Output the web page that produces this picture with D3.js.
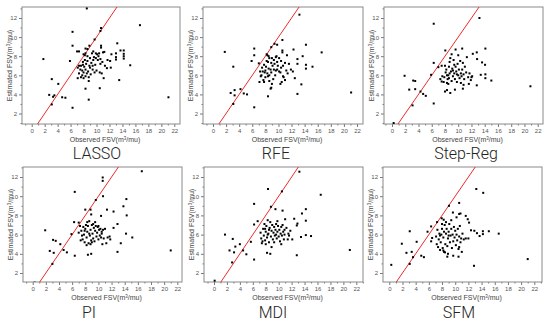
<!DOCTYPE html>
<html>
<head>
<meta charset="utf-8">
<script src="https://cdn.jsdelivr.net/npm/d3@7"></script>
<style>
  body { margin: 0; background: #fff; }
  svg { display: block; font-family: "Liberation Sans", Arial, sans-serif; }
</style>
</head>
<body>
<script>
const methods = ['LASSO', 'RFE', 'Step-Reg', 'PI', 'MDI', 'SFM'];
const xTicks = [0, 2, 4, 6, 8, 10, 12, 14, 16, 18, 20, 22];
const yTicks = [2, 4, 6, 8, 10, 12];

// [observed, estimated] pairs per method
const lassoPts = [[8.5,13.0],[1.8,7.7],[16.7,11.25],[6.3,10.55],[6.3,9.1],[10.7,10.95],[10.6,10.65],[9.7,9.75],[13.2,9.35],[5.9,7.5],[2.7,3.95],[4.1,5.1],[3.1,5.6],[3.3,3.75],[3.5,3.9],[4.7,3.7],[5.2,3.65],[3.1,2.95],[6.3,2.6],[8.8,3.45],[8.3,4.6],[10.5,4.65],[13.5,5.5],[15.2,7.05],[21.1,3.7],[14.2,8.6],[14.2,8.25],[14.2,8.0],[14.2,7.75],[13.7,8.6],[13.0,8.3],[13.0,7.9],[13.0,7.65],[12.3,8.2],[12.1,7.5],[11.7,7.6],[11.6,6.75],[12.2,6.8],[11.1,5.7],[11.2,8.45],[11.0,8.4],
  [7.0,8.5],[7.3,8.5],[8.0,8.2],[8.3,8.8],[8.6,8.75],[8.9,9.1],[9.3,8.3],[9.5,8.5],[10.1,8.2],[10.4,8.3],[10.7,8.9],[10.7,9.1],[10.3,8.0],[9.9,7.8],[9.6,7.9],[9.0,7.8],[8.6,8.0],[8.2,8.1],[7.9,7.4],[7.6,7.0],[7.3,7.0],[7.1,6.8],[7.5,6.6],[7.8,6.5],[8.1,6.9],[8.4,7.2],[8.6,7.5],[8.9,7.0],[9.2,7.3],[9.5,7.6],[9.8,7.1],[10.2,7.6],[10.6,7.2],[10.9,7.4],[8.0,6.3],[8.3,6.6],[8.7,6.4],[9.0,6.8],[9.4,6.6],[9.7,6.3],[10.0,6.5],[10.5,6.3],[10.8,6.2],[7.3,6.2],[7.6,5.8],[7.1,5.7],[8.0,5.7],[8.3,5.9],[8.8,5.8],[8.8,5.4],[9.1,6.1],[7.8,6.0],[8.5,6.2],[9.4,7.0],[11.3,7.0],[10.6,7.7],[8.2,7.6],[7.9,7.1],[9.9,8.3],[8.3,8.3]];

const rfePts = [[13.2,12.35],[1.8,8.45],[3.1,6.9],[2.7,4.15],[3.3,4.45],[4.2,4.55],[3.3,3.9],[4.7,4.1],[5.2,4.0],[3.1,3.0],[6.3,2.65],[8.4,3.8],[8.9,4.7],[8.8,4.6],[10.5,5.3],[13.5,5.05],[12.9,4.05],[21.1,4.2],[16.6,8.4],[15.2,6.9],[14.2,9.2],[14.2,7.1],[14.2,6.7],[13.7,8.0],[12.9,7.7],[12.9,7.2],[12.3,8.7],[12.2,6.4],[11.9,6.6],[11.3,8.1],[11.2,6.5],[10.6,9.7],[10.6,8.6],[10.6,8.4],[9.8,9.2],[9.4,9.3],[8.9,8.95],[8.5,8.0],[8.3,8.1],[6.3,8.8],[6.3,8.1],[5.9,7.5],
  [7.0,7.25],[7.2,6.4],[7.4,6.0],[7.5,6.8],[7.8,7.1],[8.0,6.5],[8.2,7.5],[8.4,7.4],[8.6,7.8],[8.9,7.3],[9.1,7.0],[9.3,7.6],[9.6,7.9],[9.8,7.4],[10.1,7.8],[10.4,7.5],[10.7,7.0],[11.0,7.3],[7.3,5.9],[7.7,5.5],[8.0,5.8],[8.3,6.2],[8.6,6.0],[8.9,6.3],[9.2,5.6],[9.5,6.0],[9.8,6.6],[10.1,6.4],[10.4,6.8],[10.7,5.9],[11.0,5.5],[11.4,6.2],[7.1,5.3],[7.8,5.3],[8.6,5.4],[9.0,5.1],[10.3,5.1],[10.8,5.8],[8.1,6.9],[8.5,6.7],[9.3,6.6],[9.9,7.0],[7.9,6.3],[8.8,6.6],[9.0,7.8],[8.2,8.2],[9.6,6.5],[11.6,7.2],[10.3,6.3],[7.6,6.4],[8.4,5.9],[9.4,7.2],[9.7,8.0],[12.5,5.7]];

const stepPts = [[13.2,12.0],[6.3,11.4],[1.9,5.95],[3.2,5.45],[3.5,5.4],[2.6,4.5],[3.5,4.55],[4.3,4.3],[4.7,4.05],[5.1,3.85],[3.1,2.85],[6.3,3.05],[0.25,1.0],[20.9,4.85],[15.0,5.45],[14.1,6.1],[14.1,5.7],[14.1,8.8],[14.05,7.1],[13.6,7.35],[13.4,6.05],[12.85,7.7],[12.8,8.4],[12.8,4.95],[12.2,8.25],[12.1,5.9],[10.6,8.8],[9.6,8.7],[8.05,8.6],[7.5,7.0],[7.0,6.85],[5.9,6.05],[6.3,7.3],[10.7,4.6],[8.0,4.3],[8.3,4.45],[8.8,4.15],[9.5,4.5],
  [7.6,5.9],[7.8,5.3],[7.9,5.8],[8.1,6.3],[8.2,6.6],[8.3,5.2],[8.4,5.6],[8.5,6.0],[8.6,6.9],[8.7,7.4],[8.8,7.8],[8.9,6.4],[9.0,5.4],[9.1,6.7],[9.2,5.9],[9.3,7.6],[9.4,6.2],[9.5,5.6],[9.6,6.9],[9.7,6.4],[9.8,5.3],[9.9,7.2],[10.0,6.0],[10.1,6.6],[10.2,5.7],[10.3,7.5],[10.4,6.2],[10.5,5.9],[10.6,6.6],[10.7,7.3],[10.8,6.1],[10.9,5.6],[11.0,6.9],[11.2,6.3],[11.5,5.8],[11.7,6.2],[11.9,5.5],[12.0,5.8],[7.3,5.6],[7.5,5.35],[8.0,7.0],[8.6,5.7],[9.2,6.5],[9.8,6.1],[10.4,5.2],[11.3,7.9],[10.0,8.1],[9.0,8.2],[8.7,6.2],[8.3,6.0],[9.4,7.1],[10.8,5.0],[11.6,5.1],[8.5,5.1]];

const piPts = [[16.6,12.6],[10.65,11.95],[10.65,11.6],[6.4,10.45],[10.7,10.0],[9.6,9.6],[14.25,9.7],[13.8,8.95],[14.3,8.0],[14.2,6.1],[15.15,5.7],[13.4,5.1],[12.9,7.1],[12.3,8.4],[11.3,8.6],[10.4,7.95],[12.3,6.7],[11.7,5.8],[12.9,4.2],[21.0,4.35],[1.9,6.45],[3.1,5.45],[3.5,5.35],[4.2,5.0],[2.6,4.3],[3.2,4.1],[4.7,4.4],[5.2,4.15],[3.0,2.95],[0.3,1.0],[6.4,3.8],[8.4,3.9],[8.9,4.0],[6.3,7.3],[5.9,6.05],[7.0,7.25],[8.0,8.6],[8.8,8.6],[8.9,8.1],
  [7.2,6.9],[7.4,6.4],[7.5,5.9],[7.6,5.5],[7.8,6.0],[7.9,5.2],[8.0,6.6],[8.1,7.0],[8.2,5.7],[8.3,6.3],[8.4,6.9],[8.5,5.1],[8.6,7.4],[8.7,5.9],[8.8,6.5],[8.9,5.4],[9.0,7.0],[9.1,6.1],[9.2,5.6],[9.3,6.7],[9.4,5.3],[9.5,6.4],[9.6,6.9],[9.7,5.8],[9.8,6.2],[9.9,6.8],[10.0,5.5],[10.1,6.5],[10.2,5.9],[10.3,6.6],[10.4,5.7],[10.5,6.3],[10.6,5.0],[10.7,6.5],[10.8,5.6],[11.0,6.6],[11.2,5.1],[11.4,5.7],[7.3,5.4],[7.7,6.8],[8.2,4.9],[8.6,6.1],[9.0,5.2],[9.5,7.3],[10.0,6.9],[11.8,5.5],[7.0,6.2],[8.3,7.3],[9.2,7.1],[10.5,6.1],[7.9,6.4],[8.8,5.0]];

const mdiPts = [[13.2,12.55],[8.35,10.75],[10.5,10.5],[16.5,10.15],[6.2,9.2],[8.8,8.9],[9.5,8.65],[10.6,8.5],[14.2,8.65],[13.6,8.2],[12.4,7.65],[14.2,7.45],[12.9,7.15],[12.8,6.95],[14.2,5.95],[15.0,5.85],[13.45,5.75],[12.8,3.85],[21.0,4.4],[1.7,6.0],[2.9,5.55],[3.3,4.75],[4.0,5.0],[2.4,4.35],[3.1,4.15],[4.5,4.35],[5.0,3.95],[2.8,3.1],[0.1,1.2],[6.2,3.4],[8.2,4.1],[8.7,4.0],[5.7,5.25],[6.2,7.05],[6.75,7.4],
  [7.2,6.2],[7.3,5.6],[7.4,5.1],[7.6,6.6],[7.7,5.9],[7.8,7.1],[7.9,5.4],[8.0,6.3],[8.1,6.9],[8.2,5.7],[8.3,7.5],[8.4,6.1],[8.5,5.2],[8.6,6.7],[8.7,7.3],[8.8,5.8],[8.9,6.4],[9.0,7.0],[9.1,5.5],[9.2,6.2],[9.3,6.8],[9.4,5.9],[9.5,6.5],[9.6,7.1],[9.7,5.6],[9.8,6.3],[9.9,6.9],[10.0,5.8],[10.1,6.5],[10.2,5.3],[10.3,6.1],[10.4,6.8],[10.5,5.9],[10.6,7.0],[10.7,6.3],[10.8,5.5],[10.9,6.0],[11.0,7.6],[11.2,6.7],[11.5,6.1],[11.8,6.4],[12.1,5.5],[7.5,5.3],[8.0,5.0],[8.5,6.5],[8.9,4.7],[9.3,5.2],[9.8,7.4],[10.4,5.0],[11.6,5.9],[8.3,6.0],[9.6,6.0],[7.9,6.6],[10.9,6.5],[11.4,5.5]];

const sfmPts = [[13.2,10.75],[14.25,10.35],[9.05,9.0],[10.6,9.3],[10.8,8.2],[10.6,8.15],[9.65,8.3],[11.6,7.95],[11.9,7.6],[12.1,7.25],[12.4,6.45],[12.9,6.4],[13.3,6.15],[13.7,5.85],[14.2,6.35],[14.2,6.05],[15.1,6.35],[16.6,6.1],[12.85,2.75],[21.0,3.45],[0.3,2.85],[1.9,5.05],[3.1,6.35],[4.15,5.25],[2.6,4.1],[3.4,4.2],[3.6,3.65],[4.85,3.8],[5.25,3.65],[3.1,2.95],[6.35,5.3],[6.5,5.65],[6.35,6.85],[5.8,6.3],[7.25,7.3],[7.95,7.7],[8.25,7.55],[8.8,3.7],[10.5,3.7],[8.2,4.35],[8.45,4.15],[9.7,3.8],
  [7.1,5.8],[7.2,5.0],[7.3,6.5],[7.4,4.7],[7.5,5.5],[7.6,6.1],[7.7,4.4],[7.8,5.2],[7.9,6.0],[8.0,6.6],[8.1,4.6],[8.2,5.7],[8.3,6.3],[8.4,7.0],[8.5,5.0],[8.6,6.1],[8.7,6.6],[8.8,4.8],[8.9,5.6],[9.0,6.3],[9.1,7.1],[9.2,5.2],[9.3,5.9],[9.4,6.6],[9.5,4.6],[9.6,6.0],[9.7,5.3],[9.8,6.8],[9.9,5.7],[10.0,6.4],[10.1,4.9],[10.2,6.0],[10.3,5.4],[10.4,6.6],[10.5,4.5],[10.6,5.8],[10.7,6.9],[10.8,5.2],[10.9,5.6],[11.1,6.1],[11.3,5.5],[11.6,5.6],[12.0,5.6],[8.0,7.1],[8.6,7.3],[9.4,7.5],[10.2,7.8],[7.7,5.9],[9.0,5.9],[8.3,4.2],[8.9,4.0],[10.6,4.7],[11.0,4.2]];

const allPts = [lassoPts, rfePts, stepPts, piPts, mdiPts, sfmPts];

// panel geometry: frame box, pixel of x=0 / x=22, pixel of y=12 / y=2, title anchor
const panels = [
  { l: 22,  r: 180, t: 7,   b: 124, x0: 31.7,  x22: 174.3, y12: 18,  y2: 113.5, tx: 97,  ty: 158.5 },
  { l: 203, r: 363, t: 7,   b: 124, x0: 213,   x22: 357,   y12: 18,  y2: 113.5, tx: 276, ty: 158.5 },
  { l: 384, r: 543, t: 7,   b: 124, x0: 392,   x22: 537.7, y12: 18,  y2: 113.5, tx: 466, ty: 158.5 },
  { l: 23,  r: 182, t: 167, b: 282, x0: 32.7,  x22: 177.3, y12: 177, y2: 273,   tx: 89,  ty: 317.5 },
  { l: 204, r: 363, t: 167, b: 282, x0: 214,   x22: 356.3, y12: 177, y2: 273,   tx: 273, ty: 317.5 },
  { l: 383, r: 542, t: 167, b: 282, x0: 389.3, x22: 534.3, y12: 177, y2: 273,   tx: 459, ty: 317.5 }
];

const width = 550, height = 326;

const svg = d3.select('body').append('svg')
  .attr('width', width)
  .attr('height', height);

panels.forEach((p, i) => {
  const x = d3.scaleLinear().domain([0, 22]).range([p.x0, p.x22]);
  const y = d3.scaleLinear().domain([2, 12]).range([p.y2, p.y12]);

  const g = svg.append('g');

  g.append('clipPath').attr('id', 'clip' + i)
    .append('rect')
    .attr('x', p.l).attr('y', p.t)
    .attr('width', p.r - p.l).attr('height', p.b - p.t);

  // minor ticks
  g.append('g')
    .attr('transform', `translate(0,${p.b})`)
    .call(d3.axisBottom(x).tickValues(d3.range(-1, 24, 2).filter(v => x(v) > p.l && x(v) < p.r)).tickSize(1.5).tickFormat(''))
    .call(a => a.select('.domain').remove());
  g.append('g')
    .attr('transform', `translate(${p.l},0)`)
    .call(d3.axisLeft(y).tickValues(d3.range(1, 14, 2).filter(v => y(v) > p.t && y(v) < p.b)).tickSize(1.5).tickFormat(''))
    .call(a => a.select('.domain').remove());

  // major ticks
  g.append('g')
    .attr('transform', `translate(0,${p.b})`)
    .call(d3.axisBottom(x).tickValues(xTicks).tickSize(3).tickPadding(2))
    .call(a => a.select('.domain').remove());
  g.append('g')
    .attr('transform', `translate(${p.l},0)`)
    .call(d3.axisLeft(y).tickValues(yTicks).tickSize(3).tickPadding(2))
    .call(a => a.select('.domain').remove());

  g.selectAll('.tick line').attr('stroke', '#777');
  g.selectAll('.tick text')
    .attr('font-family', '"Liberation Sans", Arial, sans-serif')
    .attr('font-size', 6)
    .attr('fill', '#555');

  // frame
  g.append('rect')
    .attr('x', p.l).attr('y', p.t)
    .attr('width', p.r - p.l).attr('height', p.b - p.t)
    .attr('fill', 'none')
    .attr('stroke', '#8a8a8a')
    .attr('stroke-width', 1);

  const inner = g.append('g').attr('clip-path', `url(#clip${i})`);

  // 1:1 line
  inner.append('line')
    .attr('x1', x(0)).attr('y1', y(0))
    .attr('x2', x(14)).attr('y2', y(14))
    .attr('stroke', '#ee2a2a')
    .attr('stroke-width', 1);

  inner.selectAll('rect.pt')
    .data(allPts[i])
    .enter()
    .append('rect')
    .attr('class', 'pt')
    .attr('x', d => x(d[0]) - 1)
    .attr('y', d => y(d[1]) - 1)
    .attr('width', 2)
    .attr('height', 2)
    .attr('fill', '#000');

  // axis titles
  const xl = g.append('text')
    .attr('x', (p.l + p.r) / 2 + 4)
    .attr('y', p.b + 18)
    .attr('text-anchor', 'middle')
    .attr('font-size', 7)
    .attr('fill', '#444');
  xl.append('tspan').text('Observed FSV(m');
  xl.append('tspan').attr('font-size', 4.5).attr('dy', -2.5).text('3');
  xl.append('tspan').attr('dy', 2.5).text('/mu)');

  const yl = g.append('text')
    .attr('transform', `translate(${p.l - 10},${(p.t + p.b) / 2}) rotate(-90)`)
    .attr('text-anchor', 'middle')
    .attr('font-size', 7)
    .attr('fill', '#444');
  yl.append('tspan').text('Estimated FSV(m');
  yl.append('tspan').attr('font-size', 4.5).attr('dy', -2.5).text('3');
  yl.append('tspan').attr('dy', 2.5).text('/mu)');

  // method name
  svg.append('text')
    .attr('x', p.tx)
    .attr('y', p.ty)
    .attr('text-anchor', 'middle')
    .attr('font-family', 'Roboto, "Noto Sans", sans-serif')
    .attr('font-weight', 300)
    .attr('font-size', 16)
    .attr('fill', '#222')
    .text(methods[i]);
});
</script>
</body>
</html>
